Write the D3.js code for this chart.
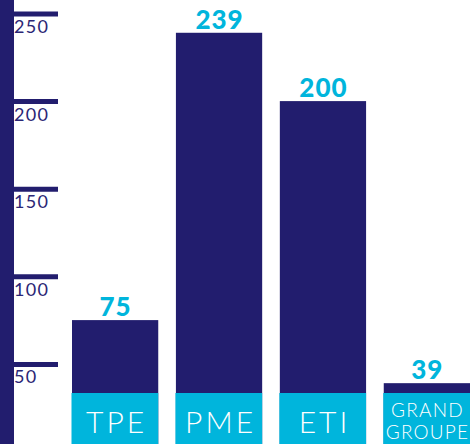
<!DOCTYPE html>
<html>
<head>
<meta charset="utf-8">
<script src="https://cdn.jsdelivr.net/npm/d3@7"></script>
<style>
  body { margin: 0; background: #fff; }
  svg { display: block; }
</style>
</head>
<body>
<div class="chart"></div>
<script>
const categories = ['TPE', 'PME', 'ETI', 'GRAND GROUPE'];
const values = [75, 239, 200, 39];
const tickValues = [50, 100, 150, 200, 250];

const navy = '#221d6e';
const cyan = '#00b5dc';

const width = 471;
const height = 444;

const svg = d3.select('.chart')
  .append('svg')
  .attr('width', width)
  .attr('height', height);

const y = d3.scaleLinear()
  .domain([0, 250])
  .range([451.5, 13.5]);

const x = d3.scaleBand()
  .domain(categories)
  .range([72, 470])
  .paddingInner(0.17)
  .paddingOuter(0);

// vertical axis bar
svg.append('rect')
  .attr('x', 0)
  .attr('y', 0)
  .attr('width', 14)
  .attr('height', height)
  .attr('fill', navy);

const axis = svg.append('g')
  .attr('transform', 'translate(14,0)')
  .call(d3.axisRight(y).tickValues(tickValues).tickSize(44).tickPadding(0));

axis.select('.domain').remove();
axis.selectAll('.tick line')
  .attr('stroke', navy)
  .attr('stroke-width', 5);
axis.selectAll('.tick text')
  .attr('x', 0)
  .attr('dy', 19)
  .attr('text-anchor', 'start')
  .attr('fill', '#2b2675')
  .style('font-family', 'Lato, sans-serif')
  .style('font-size', '18px')
  .style('font-weight', 400)
  .style('letter-spacing', '1.3px');

const bars = svg.selectAll('.bar')
  .data(categories)
  .enter()
  .append('g')
  .attr('class', 'bar');

bars.append('rect')
  .attr('x', d => x(d))
  .attr('y', (d, i) => y(values[i]))
  .attr('width', x.bandwidth())
  .attr('height', (d, i) => height - y(values[i]))
  .attr('fill', navy);

bars.append('text')
  .attr('x', d => x(d) + x.bandwidth() / 2 + 0.5)
  .attr('y', (d, i) => y(values[i]) - 4)
  .attr('text-anchor', 'middle')
  .attr('fill', cyan)
  .style('font-family', 'Lato, sans-serif')
  .style('font-size', '26px')
  .style('font-weight', 900)
  .style('letter-spacing', '1px')
  .text((d, i) => values[i]);

// category label boxes
bars.append('rect')
  .attr('x', d => x(d) - 0.5)
  .attr('y', 393)
  .attr('width', x.bandwidth() + 0.5)
  .attr('height', height - 393)
  .attr('fill', cyan);

bars.each(function (d) {
  const g = d3.select(this);
  const cx = x(d) + x.bandwidth() / 2;
  const words = d.split(' ');
  if (words.length === 1) {
    g.append('text')
      .attr('x', cx + 1.5)
      .attr('y', 433)
      .attr('text-anchor', 'middle')
      .attr('fill', '#fff')
      .style('font-family', 'Lato, sans-serif')
      .style('font-size', '30px')
      .style('font-weight', 300)
      .style('letter-spacing', '3px')
      .text(d);
  } else {
    words.forEach((w, i) => {
      g.append('text')
        .attr('x', cx + 0.6)
        .attr('y', 417 + i * 22)
        .attr('text-anchor', 'middle')
        .attr('fill', '#fff')
        .style('font-family', 'Lato, sans-serif')
        .style('font-size', '19px')
        .style('font-weight', 300)
        .style('letter-spacing', '1.2px')
        .text(w);
    });
  }
});
</script>
</body>
</html>
